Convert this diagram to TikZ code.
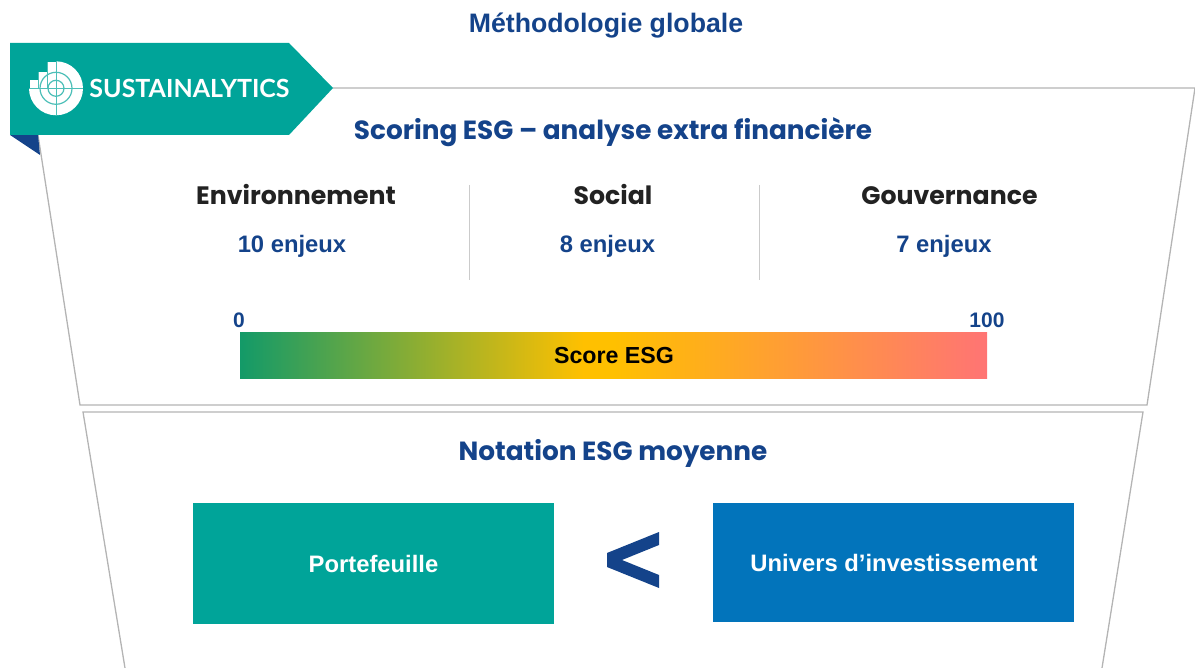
\documentclass[tikz,border=0pt]{standalone}
\usepackage{fontspec}
\setmainfont{Liberation Sans}
\newfontfamily\pop{Poppins}
\newfontfamily\lat{Lato}
\definecolor{teal}{HTML}{00A499}
\definecolor{navy}{HTML}{14438A}
\definecolor{blu}{HTML}{0274BB}
\definecolor{frm}{HTML}{B4B4B4}
\definecolor{dark}{HTML}{222222}
\definecolor{esgA}{HTML}{139A68}
\definecolor{esgB}{HTML}{FFC000}
\definecolor{esgC}{HTML}{FF7474}
\pgfdeclarehorizontalshading{esg}{100bp}{
 color(0bp)=(esgA); color(25bp)=(esgA); color(48bp)=(esgB); color(50bp)=(esgB); color(75bp)=(esgC); color(100bp)=(esgC)}
\tikzset{
 head/.style={font=\pop\bfseries\fontsize{26.3}{26.3}\selectfont,text=navy,inner sep=0pt},
 pillar/.style={font=\pop\bfseries\fontsize{25.2}{25.2}\selectfont,text=dark,inner sep=0pt},
 count/.style={font=\bfseries\fontsize{23.8}{23.8}\selectfont,text=navy,inner sep=0pt},
 scale label/.style={font=\bfseries\fontsize{21}{21}\selectfont,text=navy,inner sep=0pt},
 frame line/.style={draw=frm,line width=1.3pt},
 rule line/.style={draw=frm!70,line width=1pt},
 box text/.style={font=\bfseries\fontsize{23.8}{23.8}\selectfont,text=white,inner sep=0pt,align=center},
}
\begin{document}
\begin{tikzpicture}[x=1pt,y=-1pt]
\useasboundingbox (0,0) rectangle (1195,668);
% frames
\draw[frame line] (1195,88) -- (333,88) (1195,88) -- (1147,405) -- (80,405) -- (38,135);
\draw[frame line] (125,668) -- (83,412) -- (1143,412) -- (1102,668);
% ribbon
\fill[navy] (10,135) -- (38,135) -- (40,155) -- cycle;
\fill[teal] (10,43) -- (289,43) -- (333,88) -- (289,135) -- (10,135) -- cycle;
% logo
\begin{scope}
\clip (56,88.3) circle (27);
\fill[white] (56,60) rectangle (84,116);
\fill[white] (29,88) rectangle (56,116);
\end{scope}
\fill[white] (47,61.7) rectangle (56,88);
\fill[white] (38,72) rectangle (47,88);
\fill[white] (29.5,80) rectangle (38,88);
\begin{scope}[draw=teal!70!white,line width=1.2pt]
\draw (56,88.3) circle (8) (56,88.3) circle (16);
\draw[line width=.9pt] (29,88.3) -- (83,88.3) (56,61.5) -- (56,115);
\draw[line width=.5pt] (47,62) -- (47,88) (38,72) -- (38,88);
\end{scope}
\node[inner sep=0pt,text=white,font=\lat\bfseries\fontsize{25}{25}\selectfont] (brand) at (189.5,88) {SUSTAINALYTICS};
% title
\node[inner sep=0pt,text=navy,font=\bfseries\fontsize{26.7}{26.7}\selectfont] (title) at (606,26) {Méthodologie globale};
\node[head] (scoring) at (613,132) {Scoring ESG – analyse extra financière};
% pillars
\node[pillar] (env) at (296,195) {Environnement};
\node[pillar] (soc) at (613,195) {Social};
\node[pillar] (gov) at (949.5,196) {Gouvernance};
\node[count] (n1) at (292,246.5) {10 enjeux};
\node[count] (n2) at (607.5,246.5) {8 enjeux};
\node[count] (n3) at (944,246.5) {7 enjeux};
\draw[rule line] (469,185) -- (469,280);
\draw[rule line] (759,185) -- (759,280);
% gradient
\path[shading=esg,shading angle=0] (240,332.5) rectangle (987,379);
\node[inner sep=0pt,text=black,font=\bfseries\fontsize{23.2}{23.2}\selectfont] (score) at (614,356) {Score ESG};
\node[scale label] (zero) at (239,320) {0};
\node[scale label] (hundred) at (987,320) {100};
% bottom
\node[head] (notation) at (613,453) {Notation ESG moyenne};
\fill[teal] (193,503) rectangle (554,624);
\node[box text] (pf) at (373.5,563.5) {Portefeuille};
\fill[blu] (713,503) rectangle (1074,622);
\node[box text] (univ) at (894,562.5) {Univers d’investissement};
\fill[navy] (659,532) -- (607,553) -- (607,567) -- (659,588) -- (659,575) -- (622,560) -- (659,545) -- cycle;
\end{tikzpicture}
\end{document}
